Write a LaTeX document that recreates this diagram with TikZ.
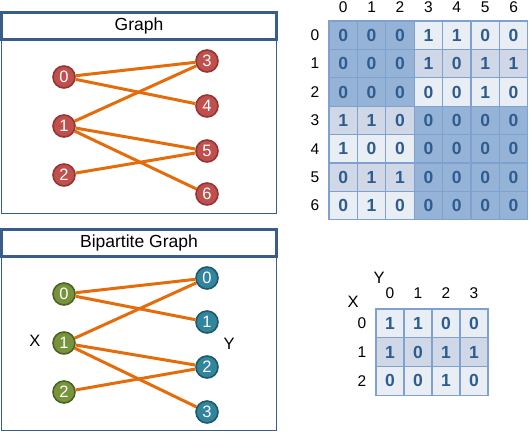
\documentclass[tikz,border=0pt]{standalone}
\usepackage{fontspec}
\setmainfont{Liberation Sans}
\definecolor{frameblue}{HTML}{385D8A}
\definecolor{edgeor}{HTML}{E46C0A}
\definecolor{redfill}{HTML}{C0504D}
\definecolor{reddraw}{HTML}{943634}
\definecolor{greenfill}{HTML}{77933C}
\definecolor{greendraw}{HTML}{4F6228}
\definecolor{tealfill}{HTML}{31859C}
\definecolor{tealdraw}{HTML}{215968}
\definecolor{celldark}{HTML}{95B3D7}
\definecolor{celllight}{HTML}{E9EDF4}
\definecolor{cellmid}{HTML}{D0D8E8}
\definecolor{celltext}{HTML}{2E5C8E}
\definecolor{cellline}{HTML}{7FA1CF}
\tikzset{
  framebox/.style={draw=frameblue,line width=1.5pt},
  titlebox/.style={draw=frameblue,line width=2.4pt,fill=white},
  titletext/.style={font=\fontsize{17.5}{20}\selectfont,inner sep=0pt},
  vtx/.style={circle,minimum size=22pt,inner sep=0pt,line width=1.6pt,text=white,font=\fontsize{16.5}{18}\selectfont},
  rv/.style={vtx,fill=redfill,draw=reddraw},
  gv/.style={vtx,fill=greenfill,draw=greendraw},
  tv/.style={vtx,fill=tealfill,draw=tealdraw},
  edge/.style={draw=edgeor,line width=3pt},
  cell/.style={draw=cellline,line width=1.2pt,inner sep=0pt,text=celltext,font=\fontsize{17.5}{19}\selectfont\bfseries},
  hdr/.style={inner sep=0pt,font=\fontsize{15.5}{17}\selectfont},
  axislbl/.style={inner sep=0pt,font=\fontsize{16.5}{18}\selectfont}
}
\begin{document}
\begin{tikzpicture}[x=1pt,y=-1pt]
\useasboundingbox (0,0) rectangle (529,432);
% ---------- Graph panel ----------
\draw[framebox] (1.5,12.5) rectangle (276.5,213.5);
\draw[titlebox] (1.5,12.5) rectangle (276.5,39.5);
\node[titletext] (gtitle) at (139,26) {Graph};
\node[rv] (g0) at (64,77) {0};
\node[rv] (g1) at (64,126) {1};
\node[rv] (g2) at (64,175) {2};
\node[rv] (g3) at (207,61) {3};
\node[rv] (g4) at (207,106) {4};
\node[rv] (g5) at (207,151) {5};
\node[rv] (g6) at (207,194) {6};
\draw[edge] (g0) -- (g3);
\draw[edge] (g0) -- (g4);
\draw[edge] (g1) -- (g3);
\draw[edge] (g1) -- (g5);
\draw[edge] (g1) -- (g6);
\draw[edge] (g2) -- (g5);
% ---------- Bipartite panel ----------
\draw[framebox] (1.5,229.5) rectangle (276.5,430.5);
\draw[titlebox] (1.5,229.5) rectangle (276.5,256.5);
\node[titletext] (btitle) at (139,243) {Bipartite Graph};
\node[gv] (x0) at (64,294) {0};
\node[gv] (x1) at (64,343) {1};
\node[gv] (x2) at (64,392) {2};
\node[tv] (y0) at (207,278) {0};
\node[tv] (y1) at (207,322) {1};
\node[tv] (y2) at (207,367) {2};
\node[tv] (y3) at (207,412) {3};
\draw[edge] (x0) -- (y0);
\draw[edge] (x0) -- (y1);
\draw[edge] (x1) -- (y0);
\draw[edge] (x1) -- (y2);
\draw[edge] (x1) -- (y3);
\draw[edge] (x2) -- (y2);
\node[axislbl] (xl) at (35,341) {X};
\node[axislbl] (yl) at (229,344) {Y};
% ---------- Adjacency matrix (graph) ----------
\foreach \r/\row in {0/{0,0,0,1,1,0,0},1/{0,0,0,1,0,1,1},2/{0,0,0,0,0,1,0},3/{1,1,0,0,0,0,0},4/{1,0,0,0,0,0,0},5/{0,1,1,0,0,0,0},6/{0,1,0,0,0,0,0}}{
  \foreach \v [count=\c from 0] in \row {
    \pgfmathtruncatemacro{\isdark}{((\r<3)&&(\c<3)) || ((\r>2)&&(\c>2)) ? 1 : 0}
    \pgfmathtruncatemacro{\isodd}{mod(\r,2)}
    \ifnum\isdark=1 \def\cc{celldark}\else\ifnum\isodd=1 \def\cc{cellmid}\else\def\cc{celllight}\fi\fi
    \node[cell,fill=\cc,minimum width=28.4pt,minimum height=28.4pt] (a-\r-\c) at ({329+28.4*(\c+0.5)},{21+28.4*(\r+0.5)}) {\v};
  }
  \node[hdr] (ar-\r) at (315,{21+28.4*(\r+0.5)}) {\r};
  \node[hdr] (ac-\r) at ({329+28.4*(\r+0.5)},7.5) {\r};
}
% ---------- Biadjacency matrix ----------
\foreach \r/\row in {0/{1,1,0,0},1/{1,0,1,1},2/{0,0,1,0}}{
  \foreach \v [count=\c from 0] in \row {
    \pgfmathtruncatemacro{\isodd}{mod(\r,2)}
    \ifnum\isodd=1 \def\cc{cellmid}\else\def\cc{celllight}\fi
    \node[cell,fill=\cc,minimum width=28pt,minimum height=28.7pt] (b-\r-\c) at ({376+28*(\c+0.5)},{309+28.7*(\r+0.5)}) {\v};
  }
  \node[hdr] (br-\r) at (362,{309+28.7*(\r+0.5)}) {\r};
}
\foreach \c in {0,1,2,3}{
  \node[hdr] (bc-\c) at ({376+28*(\c+0.5)},293) {\c};
}
\node[axislbl] (bY) at (379,278) {Y};
\node[axislbl] (bX) at (353,302) {X};
\end{tikzpicture}
\end{document}
